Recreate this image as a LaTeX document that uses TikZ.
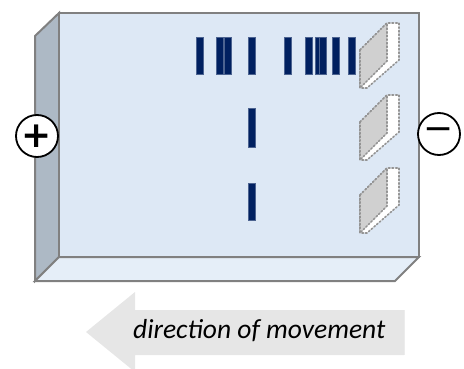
\documentclass[tikz,border=0pt]{standalone}
\usepackage{fontspec}
\setsansfont{Carlito}
\newfontfamily\signfont{DejaVu Sans}
\usepackage{tikz}
\usetikzlibrary{calc}
\definecolor{gelblue}{RGB}{221,232,245}
\definecolor{gelfloor}{RGB}{229,238,248}
\definecolor{gelside}{RGB}{173,185,197}
\definecolor{gelline}{RGB}{128,128,128}
\definecolor{bandnavy}{RGB}{0,32,96}
\definecolor{wellgray}{RGB}{208,208,208}
\definecolor{arrowgray}{RGB}{230,230,230}
\tikzset{
  gel/.style={
    draw=gelline,
    line width=2pt,
    line join=miter
  },
  band/.style={
    draw=bandnavy!70!white,
    line width=.6pt,
    fill=bandnavy
  },
  well/.style={
    draw=gray!85,
    dotted,
    line width=1.6pt,
    line cap=round
  },
  pole/.style={
    circle,
    draw=black,
    line width=1.8pt,
    fill=white,
    minimum size=42pt,
    inner sep=0pt,
    font=\fontsize{36}{36}\selectfont\signfont\bfseries
  },
  caption/.style={
    font=\fontsize{27.5}{30}\selectfont\sffamily\itshape,
    inner sep=0pt,
    anchor=west
  }
}
% one sample well, #1 = top edge
\newcommand{\well}[1]{
  \fill[white] (360,#1+27) -- (387,#1) -- (399,#1) -- (399,#1+37) -- (367,#1+65) -- (360,#1+65) -- cycle;
  \draw[well] (360,#1+27) -- (387,#1) -- (399,#1) -- (399,#1+37) -- (367,#1+65) -- (360,#1+65) -- cycle;
  \draw[well,fill=wellgray] (360,#1+27) -- (387,#1) -- (387,#1+38) -- (360,#1+65) -- cycle;
}

\begin{document}
\begin{tikzpicture}[x=1pt,y=-1pt]
\useasboundingbox (0,0) rectangle (464,369);
\coordinate (nw) at (59,13);
\coordinate (se) at (419,257);
\draw[gel,fill=gelside] (35,36) -- (nw) -- (59,257) -- (35,281) -- cycle;
\draw[gel,fill=gelfloor] (35,281) -- (59,257) -- (se) -- (395,281) -- cycle;
\draw[gel,fill=gelblue] (nw) rectangle (se);
\foreach \x in {196,216,224,248,284,305,315,319,332,348}
  \draw[band] (\x,37) rectangle ++(7.5,37);
\draw[band] (248,108) rectangle ++(7.5,39);
\draw[band] (248,183) rectangle ++(7.5,37);
\well{23}
\well{95}
\well{168}
\node[pole] (plus) at (37,136) {+};
\node[pole,font=\fontsize{36}{36}\selectfont\signfont] (minus) at (439,134) {−};
\coordinate (tip) at (86,332);
\fill[arrowgray] (tip) -- (135,292) -- (135,310) -- (404,310) -- (404,355) -- (135,355) -- (135,372) -- cycle;
\draw[white!85!gray,line width=1pt] (404,310) -- (404,355);
\node[caption] (dir) at (133,331) {direction of movement};
\end{tikzpicture}
\end{document}
